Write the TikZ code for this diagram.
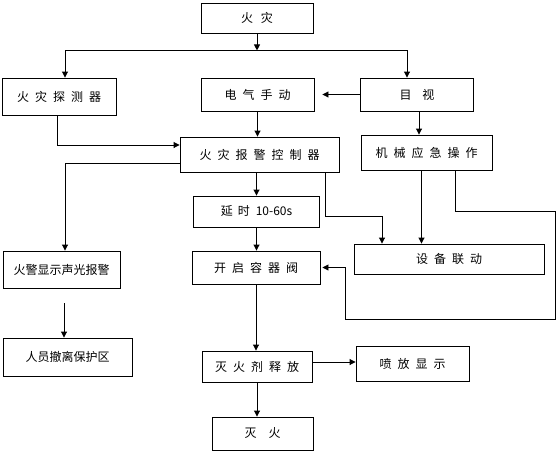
\documentclass[tikz,border=0pt]{standalone}
\usepackage{fontspec}
\setmainfont{Noto Sans CJK SC}
\usetikzlibrary{arrows.meta}
\newcommand{\sg}{\hspace{6pt}}
\begin{document}
\begin{tikzpicture}[x=1pt,y=-1pt,
  box/.style={draw,line width=0.9pt,inner sep=0pt,font=\fontsize{12pt}{14pt}\selectfont},
  arr/.style={line width=0.9pt,-{Triangle[length=6pt,width=6pt]}}]
\fill[white] (0,0) rectangle (556,453);
\useasboundingbox (0,0) rectangle (556,453);
% boxes
\node[box,minimum width=112pt,minimum height=30pt] (fire) at (257,18) {火\hspace{8pt}灾};
\node[box,minimum width=114pt,minimum height=37pt] (det) at (59,96.5) {火\sg 灾\sg 探\sg 测\sg 器};
\node[box,minimum width=113pt,minimum height=33pt] (man) at (257.5,94.5) {电\sg 气\sg 手\sg 动};
\node[box,minimum width=113pt,minimum height=33pt] (eye) at (417,94.5) {目\hspace{11pt}视};
\node[box,minimum width=159pt,minimum height=35pt] (ctrl) at (259.5,154.5) {火\sg 灾\sg 报\sg 警\sg 控\sg 制\sg 器};
\node[box,minimum width=131pt,minimum height=35pt] (mech) at (426.5,152.5) {机\sg 械\sg 应\sg 急\sg 操\sg 作};
\node[box,minimum width=117pt,minimum height=37pt] (alarm) at (61.5,269.5) {火警显示声光报警};
\node[box,minimum width=129pt,minimum height=38pt] (people) at (67.5,357) {人员撤离保护区};
\node[box,minimum width=126pt,minimum height=31pt] (delay) at (256.5,211.5) {延\hspace{5pt}时\hspace{6pt}10-60s};
\node[box,minimum width=128pt,minimum height=33pt] (valve) at (256,267.5) {开\sg 启\sg 容\sg 器\sg 阀};
\node[box,minimum width=190pt,minimum height=30pt] (link) at (449,259) {设\sg 备\sg 联\sg 动};
\node[box,minimum width=110pt,minimum height=31pt] (release) at (257,366.5) {灭\sg 火\sg 剂\sg 释\sg 放};
\node[box,minimum width=113pt,minimum height=35pt] (spray) at (412.5,363.5) {喷\sg 放\sg 显\sg 示};
\node[box,minimum width=101pt,minimum height=33pt] (out) at (262.5,433.5) {灭\hspace{12pt}火};
% connectors
\coordinate (j1) at ([yshift=-17pt]fire.south);
\draw[arr] (fire.south) -- (j1);
\draw[arr] (j1) -| ([xshift=6pt]det.north);
\draw[arr] (j1) -| ([xshift=-10pt]eye.north);
\draw[arr,shorten >=8pt] (eye.west) -- (man.east);
\draw[arr] (man.south) -- (man.south |- ctrl.north);
\draw[arr] ([xshift=-2pt]det.south) |- ([yshift=9.5pt]ctrl.west);
\draw[arr] ([xshift=2pt]eye.south) -- ([xshift=2pt]eye.south |- mech.north);
\draw[arr] ([yshift=-8.5pt]ctrl.west) -| ([xshift=3.5pt]alarm.north);
\draw[arr] ([xshift=2.5pt,yshift=-15pt]alarm.south) -- ([xshift=2.5pt]alarm.south |- people.north);
\draw[arr] (delay.north |- ctrl.south) -- (delay.north);
\draw[arr] (delay.south) -- (delay.south |- valve.north);
\draw[arr] (valve.south) -- (valve.south |- release.north);
\draw[arr] ([xshift=65.5pt]ctrl.south) -- ++(0,44) -| ([xshift=-67pt]link.north);
\draw[arr] ([xshift=-5pt]mech.south) -- ([xshift=-5pt]mech.south |- link.north);
\draw[arr,shorten >=2pt] ([xshift=28.5pt]mech.south) -- ++(0,41) -- ++(100,0) -- ++(0,108) -- ++(-210,0) |- (valve.east);
\draw[arr] ([yshift=4.5pt]release.east) -- ([yshift=4.5pt]release.east -| spray.west);
\draw[arr] (release.south) -- (release.south |- out.north);
\end{tikzpicture}
\end{document}
